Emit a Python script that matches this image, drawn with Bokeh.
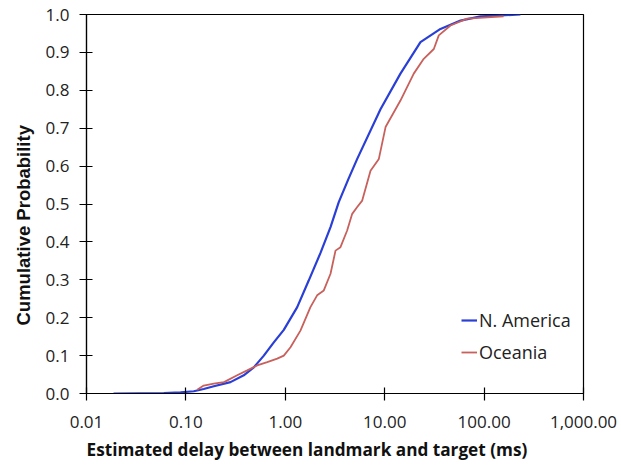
from bokeh.plotting import figure
from bokeh.models import (FixedTicker, CustomJSTickFormatter, Title, Legend, LegendItem,
                          Range1d)
from bokeh.embed import file_html
from bokeh.resources import INLINE

# ---- data ----
na_delay = [0.0187, 0.06, 0.0883, 0.120, 0.151, 0.191, 0.281, 0.382, 0.482, 0.608, 0.766,
            0.966, 1.318, 1.72, 2.26, 2.85, 3.45, 4.3, 5.29, 9.07, 14.4, 22.9, 36.4, 57.9,
            92.0, 232.0]
na_prob = [0.0, 0.001, 0.003, 0.006, 0.012, 0.019, 0.030, 0.048, 0.069, 0.100, 0.135,
           0.168, 0.228, 0.298, 0.371, 0.439, 0.505, 0.565, 0.619, 0.750, 0.844, 0.927,
           0.962, 0.984, 0.995, 1.0]

oc_delay = [0.130, 0.151, 0.191, 0.241, 0.250, 0.328, 0.414, 0.521, 0.658, 0.829, 0.966, 1.128,
            1.42, 1.79, 2.09, 2.44, 2.85, 3.2, 3.59, 4.19, 4.71, 5.29, 5.94, 7.2, 8.73, 10.2,
            14.4, 19.6, 24.7, 31.2, 35.0, 45.9, 67.6, 157.0]
oc_prob = [0.010, 0.021, 0.026, 0.030, 0.032, 0.048, 0.061, 0.074, 0.083, 0.092, 0.100, 0.122,
           0.166, 0.228, 0.259, 0.272, 0.316, 0.377, 0.386, 0.430, 0.474, 0.492, 0.509, 0.588,
           0.619, 0.703, 0.773, 0.844, 0.883, 0.909, 0.945, 0.971, 0.989, 0.995]

x_ticks = [0.01, 0.1, 1, 10, 100, 1000]
y_ticks = [0.0, 0.1, 0.2, 0.3, 0.4, 0.5, 0.6, 0.7, 0.8, 0.9, 1.0]

series_names = ["N. America", "Oceania"]
x_title = "Estimated delay between landmark and target (ms)"
y_title = "Cumulative Probability"

BLUE = "#2a3fd6"
RED = "#c8605c"
FONT = "Open Sans"

p = figure(width=621, height=466, x_axis_type="log", output_backend="svg",
           toolbar_location=None, x_range=Range1d(0.01, 1000), y_range=Range1d(0, 1),
           min_border_left=86, min_border_right=38, min_border_top=14, min_border_bottom=73)
p.xgrid.visible = False
p.ygrid.visible = False
p.outline_line_color = "black"
p.outline_line_width = 1.2
p.background_fill_color = "white"
p.border_fill_color = "white"

r1 = p.line(na_delay, na_prob, line_color=BLUE, line_width=2.2)
r2 = p.line(oc_delay, oc_prob, line_color=RED, line_width=1.8)

for ax in (p.xaxis[0], p.yaxis[0]):
    ax.axis_line_color = "black"
    ax.axis_line_width = 1.2
    ax.major_tick_line_color = "black"
    ax.major_tick_line_width = 1.2
    ax.minor_tick_line_color = None
    ax.major_tick_in = 6
    ax.major_tick_out = 7
    ax.major_label_text_font = FONT
    ax.major_label_text_font_size = "17px"
    ax.major_label_text_color = "#222222"

p.xaxis.ticker = FixedTicker(ticks=x_ticks, minor_ticks=[])
p.xaxis.formatter = CustomJSTickFormatter(code="""
return tick.toLocaleString('en-US', {minimumFractionDigits: 2, maximumFractionDigits: 2});
""")
p.xaxis.major_label_standoff = 15
p.yaxis.ticker = FixedTicker(ticks=y_ticks, minor_ticks=[])
p.yaxis.formatter = CustomJSTickFormatter(code="return tick.toFixed(1);")
p.yaxis.major_label_standoff = 10
# spacer so the y title sits further out
p.yaxis.axis_label = " "
p.yaxis.axis_label_text_font_size = "1px"
p.yaxis.axis_label_standoff = 0

# axis titles
p.add_layout(Title(text=x_title, align="left", offset=0, text_font=FONT,
                   text_font_style="bold", text_font_size="17.2px", text_color="#111111"),
             "below")
p.add_layout(Title(text=y_title, align="left", offset=68, text_font="Liberation Sans",
                   text_font_style="bold", text_font_size="18.5px", text_color="#111111"),
             "left")

legend = Legend(items=[LegendItem(label=series_names[0], renderers=[r1]),
                       LegendItem(label=series_names[1], renderers=[r2])],
                location=(375, 29), padding=0, margin=0, spacing=8,
                glyph_width=16, glyph_height=24, label_height=24, label_standoff=2,
                border_line_color=None, background_fill_alpha=0,
                label_text_font=FONT, label_text_font_size="18px", label_text_color="#222222")
p.add_layout(legend)

open("out.html", "w").write(file_html(p, INLINE))
